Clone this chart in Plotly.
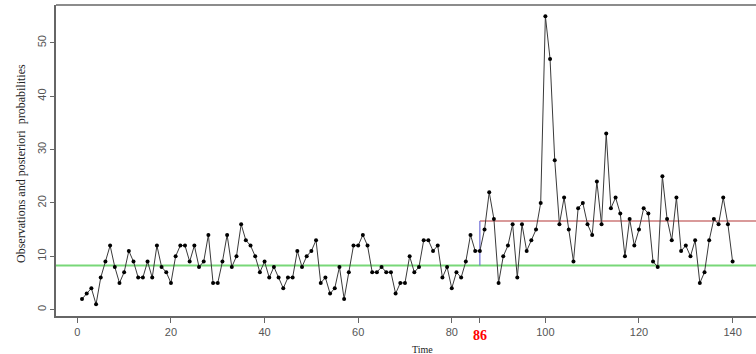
import plotly.graph_objects as go

time = list(range(1, 141))
observations = [
    2, 3, 4, 1, 6, 9, 12, 8, 5, 7,
    11, 9, 6, 6, 9, 6, 12, 8, 7, 5,
    10, 12, 12, 9, 12, 8, 9, 14, 5, 5,
    9, 14, 8, 10, 16, 13, 12, 10, 7, 9,
    6, 8, 6, 4, 6, 6, 11, 8, 10, 11,
    13, 5, 6, 3, 4, 8, 2, 7, 12, 12,
    14, 12, 7, 7, 8, 7, 7, 3, 5, 5,
    10, 7, 8, 13, 13, 11, 12, 6, 8, 4,
    7, 6, 9, 14, 11, 11, 15, 22, 17, 5,
    10, 12, 16, 6, 16, 11, 13, 15, 20, 55,
    47, 28, 16, 21, 15, 9, 19, 20, 16, 14,
    24, 16, 33, 19, 21, 18, 10, 17, 12, 15,
    19, 18, 9, 8, 25, 17, 13, 21, 11, 12,
    10, 13, 5, 7, 13, 17, 16, 21, 16, 9,
]
change_point = 86
level_before = 8.25
level_after = 16.6
x_ticks = [0, 20, 40, 60, 80, 100, 120, 140]

X_RANGE = [-4.56, 145.0]
Y_RANGE = [-1.2, 57.1]

W, H = 756, 354
ml, mr, mt, mb = 56, 0, 5, 38
pw, ph = W - ml - mr, H - mt - mb

fig = go.Figure()

fig.add_trace(go.Scatter(
    x=X_RANGE, y=[level_before, level_before], mode="lines",
    line=dict(color="rgb(120,215,120)", width=2), hoverinfo="skip", showlegend=False))
fig.add_trace(go.Scatter(
    x=[change_point, X_RANGE[1]], y=[level_after, level_after], mode="lines",
    line=dict(color="rgb(205,120,120)", width=1.5), hoverinfo="skip", showlegend=False))
fig.add_trace(go.Scatter(
    x=[change_point, change_point], y=[level_before, level_after], mode="lines",
    line=dict(color="rgb(110,110,215)", width=1.2), hoverinfo="skip", showlegend=False))
fig.add_trace(go.Scatter(
    x=time, y=observations, mode="lines+markers",
    line=dict(color="#3a3a3a", width=1),
    marker=dict(color="black", size=4), showlegend=False))

fig.update_layout(
    width=W, height=H,
    margin=dict(l=ml, r=mr, t=mt, b=mb),
    plot_bgcolor="white", paper_bgcolor="white",
    font=dict(family="Liberation Sans, Arial, sans-serif", size=11, color="#555"),
    xaxis=dict(range=X_RANGE, tickvals=x_ticks + [change_point],
               ticktext=[str(v) for v in x_ticks] + [""],
               showgrid=False, zeroline=False, showline=True, linecolor="#666", linewidth=1.5,
               ticks="outside", ticklen=5, tickcolor="#666", tickfont=dict(size=11, color="#555")),
    yaxis=dict(range=Y_RANGE, tickvals=[0, 10, 20, 30, 40, 50], tickangle=-90,
               showgrid=False, zeroline=False, showline=True, linecolor="#666", linewidth=1.5,
               ticks="outside", ticklen=4, tickcolor="#666", tickfont=dict(size=11, color="#555")),
    shapes=[dict(type="line", xref="paper", yref="paper", x0=0, x1=1, y0=1, y1=1,
                 line=dict(color="#666", width=1.5))],
    annotations=[
        dict(text="<b>86</b>", x=change_point, xref="x", y=0, yref="paper", yshift=-10,
             yanchor="top", showarrow=False,
             font=dict(family="Liberation Serif, Times New Roman, serif", size=14, color="red")),
        dict(text="Time", x=(423 - ml) / pw, xref="paper", y=-(349 - (H - mb)) / ph, yref="paper",
             yanchor="middle", showarrow=False,
             font=dict(family="Liberation Serif, serif", size=10, color="#222222")),
        dict(text="Observations and posteriori  probabilities", textangle=-90,
             x=(21 - ml) / pw, xref="paper", y=((H - mb) - 164) / ph, yref="paper",
             xanchor="center", yanchor="middle", showarrow=False,
             font=dict(family="Liberation Serif, Times New Roman, serif", size=12, color="#222222")),
    ],
)

fig.write_html("out.html", config={"displayModeBar": False},
               post_script="document.body.style.margin='0px';")
